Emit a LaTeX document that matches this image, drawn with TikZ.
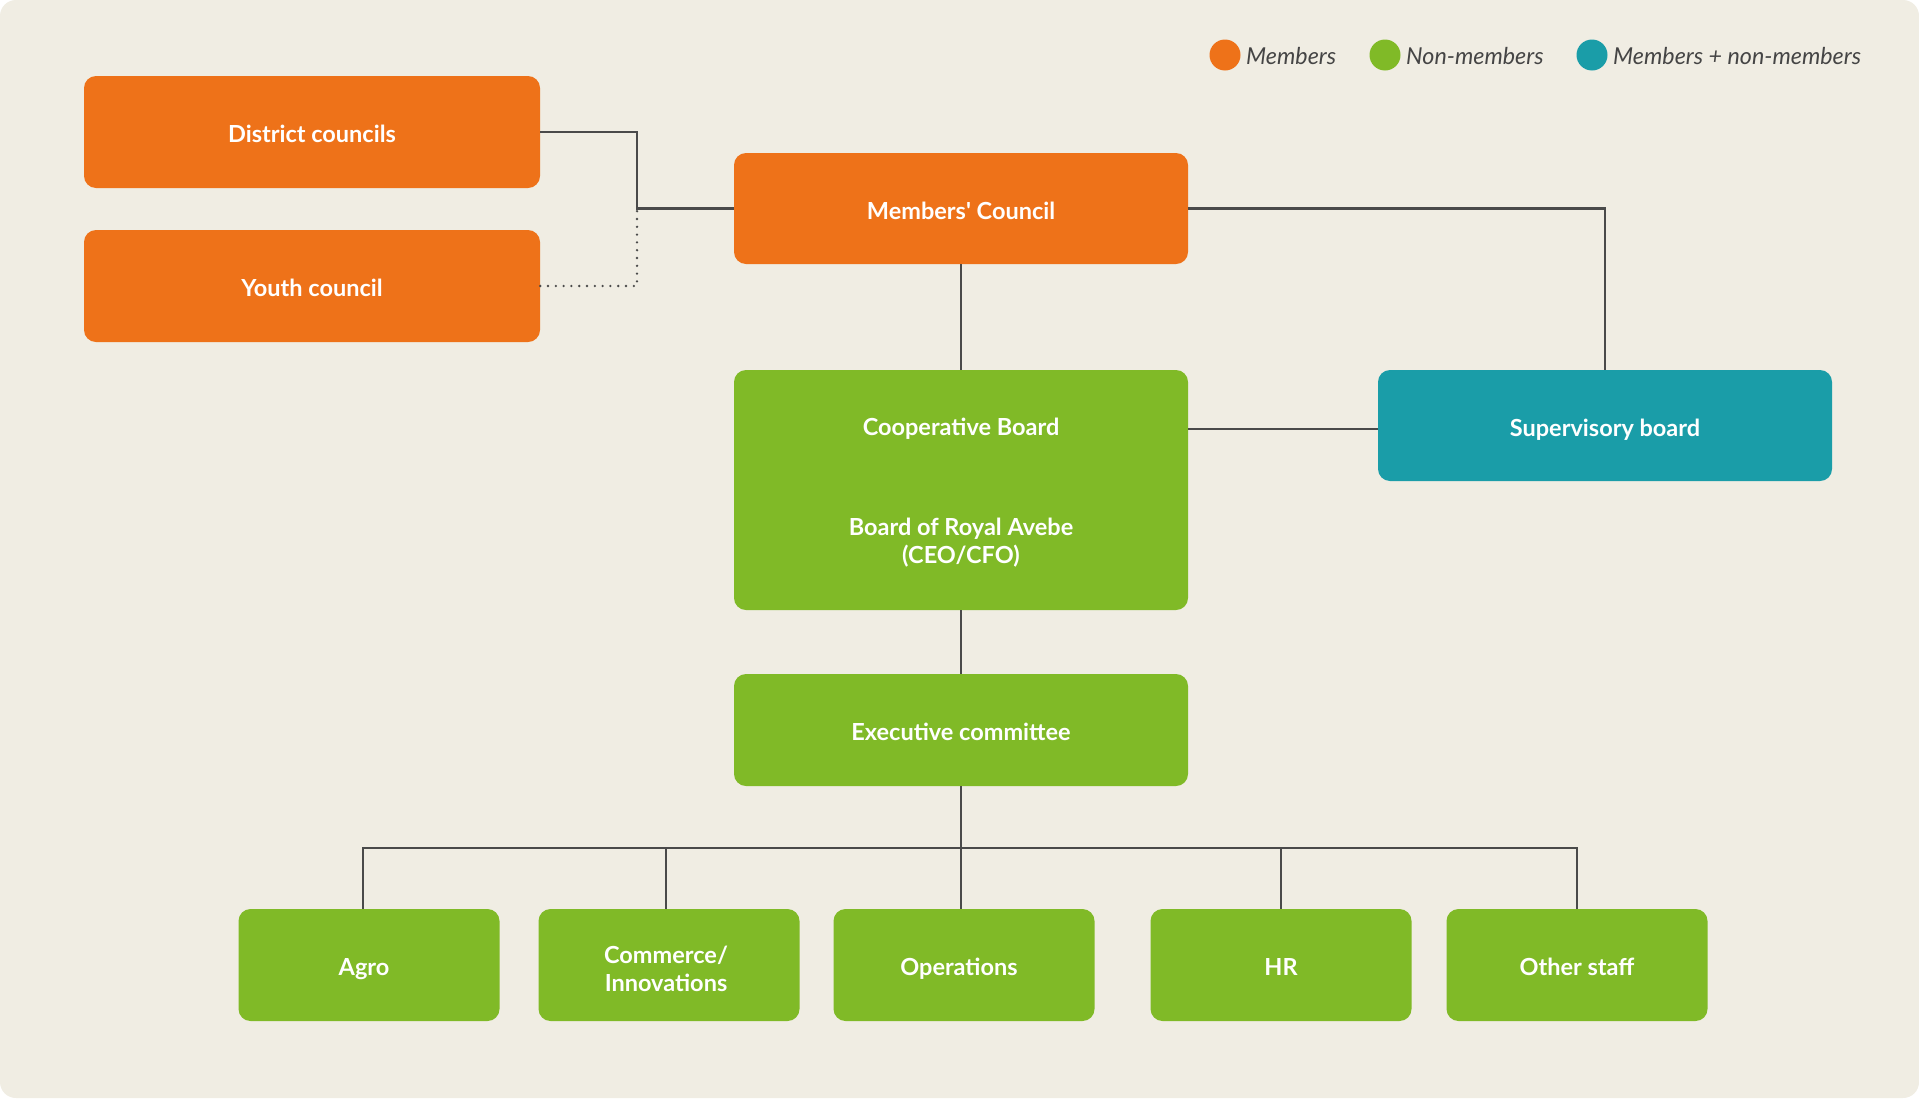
\documentclass[tikz,border=0pt]{standalone}
\usepackage{fontspec}
\setmainfont{Lato}[Ligatures=TeXOff]
\definecolor{bgc}{HTML}{F0EDE3}
\definecolor{orng}{HTML}{EE7219}
\definecolor{grn}{HTML}{80BA27}
\definecolor{teal}{HTML}{1A9DA8}
\definecolor{lnc}{HTML}{4A4A4A}
\definecolor{txc}{HTML}{454545}
\tikzset{
  boxfont/.style={font=\fontsize{23.5}{28}\selectfont\bfseries},
  box/.style={rounded corners=12pt, minimum width=454pt, minimum height=112pt, inner sep=0pt,
    text=white, boxfont, text height=21pt, text depth=0pt},
  smallbox/.style={box, minimum width=261pt},
  boxtxt/.style={text=white, boxfont, align=center, inner sep=0pt},
  conn/.style={draw=lnc, line width=2.2pt},
  dotconn/.style={draw=lnc, line width=2.6pt, dash pattern=on 0pt off 7.8pt, line cap=round},
  legdot/.style={circle, minimum size=31pt, inner sep=0pt},
  legtxt/.style={anchor=west, inner sep=0pt, text=txc, font=\fontsize{23.3}{27}\selectfont\itshape}
}
\begin{document}
\begin{tikzpicture}[x=1pt,y=-1pt]
\useasboundingbox (0,0) rectangle (1919,1098);
\fill[white] (0,0) rectangle (1919,1098);
\fill[bgc, rounded corners=16pt] (0,0) rectangle (1919,1098);

% legend
\node[legdot, fill=orng] (l1) at (1225,55) {};
\node[legtxt] (t1) at (1246,56) {Members};
\node[legdot, fill=grn] (l2) at (1385,55) {};
\node[legtxt] (t2) at (1406,56) {Non-members};
\node[legdot, fill=teal] (l3) at (1592,55) {};
\node[legtxt] (t3) at (1613,56) {Members + non-members};

% boxes
\node[box, fill=orng, minimum width=456pt] (dc) at (312,132) {District councils};
\node[box, fill=orng, minimum width=456pt] (yc) at (312,286) {Youth council};
\node[box, fill=orng, minimum height=111pt] (mc) at (961,208.5) {Members' Council};
\node[box, fill=grn, minimum height=240pt] (cb) at (961,490) {};
\node[boxtxt] (cbt) at (961,428.5) {Cooperative Board};
\node[boxtxt] (rat) at (961,543) {Board of Royal Avebe\\(CEO/CFO)};
\node[box, fill=teal, minimum height=111pt] (sb) at (1605,425.5) {Supervisory board};
\node[box, fill=grn] (ex) at (961,730) {Executive committee};

\node[smallbox, fill=grn] (agro) at (369,965) {};
\node[boxtxt, text height=21pt, text depth=0pt] (agrot) at (364,965) {Agro};
\node[smallbox, fill=grn] (com) at (669,965) {};
\node[boxtxt] (comt) at (666,969) {Commerce/\\Innovations};
\node[smallbox, fill=grn] (ops) at (964,965) {};
\node[boxtxt, text height=21pt, text depth=0pt] (opst) at (959,965) {Operations};
\node[smallbox, fill=grn] (hr) at (1281,965) {HR};
\node[smallbox, fill=grn] (oth) at (1577,965) {Other staff};

% connectors
\coordinate (jn) at (637,208.5);
\coordinate (bus) at (961,848);
\draw[conn] (dc.east) -| (jn) -- (mc.west);
\draw[dotconn] (yc.east) -| (jn);
\draw[conn] (mc.east) -| (sb.north);
\draw[conn] (mc.south) -- (cb.north);
\draw[conn] ([yshift=-3.5pt]sb.west) -- ([yshift=-3.5pt]sb.west -| cb.east);
\draw[conn] (cb.south) -- (ex.north);
\draw[conn] (ex.south) -- (bus);
\draw[conn] ([xshift=-6pt]agro.north) |- (bus);
\draw[conn] ([xshift=-3pt]com.north) |- (bus);
\draw[conn] (bus) -- (bus |- ops.north);
\draw[conn] (hr.north) |- (bus);
\draw[conn] (oth.north) |- (bus);
\end{tikzpicture}
\end{document}
